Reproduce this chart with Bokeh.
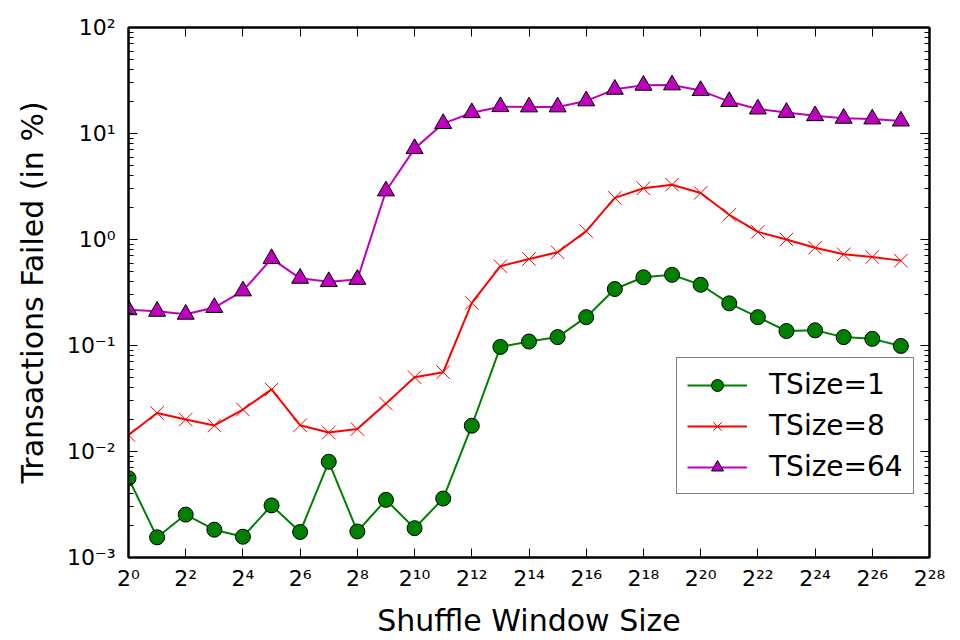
from bokeh.plotting import figure
from bokeh.models import FixedTicker, LogAxis, Legend, LegendItem, CustomJSTickFormatter
from bokeh.embed import file_html
from bokeh.resources import INLINE

# ---- data ----
exponents = list(range(28))  # window size = 2**exponent
tsize1 = [0.0056, 0.00155, 0.00254, 0.00183, 0.00157, 0.0031, 0.00174, 0.0080,
          0.00176, 0.0035, 0.00189, 0.0036, 0.0175, 0.097, 0.109, 0.120,
          0.185, 0.341, 0.44, 0.464, 0.374, 0.25, 0.185, 0.137,
          0.139, 0.120, 0.1155, 0.099]
tsize8 = [0.0143, 0.0231, 0.0200, 0.0176, 0.0249, 0.0385, 0.0177, 0.0151,
          0.0163, 0.0283, 0.0502, 0.056, 0.252, 0.56, 0.655, 0.757,
          1.20, 2.47, 3.04, 3.29, 2.75, 1.71, 1.18, 1.00,
          0.836, 0.725, 0.684, 0.632]
tsize64 = [0.217, 0.210, 0.197, 0.228, 0.327, 0.66, 0.43, 0.40,
           0.42, 2.87, 7.2, 12.4, 15.7, 17.9, 17.8, 17.8,
           20.3, 26.1, 28.5, 28.7, 25.4, 20.0, 17.0, 15.8,
           14.7, 13.9, 13.7, 13.1]
series_labels = ["TSize=1", "TSize=8", "TSize=64"]

x_tick_exponents = list(range(0, 29, 2))
x_tick_labels = ["2⁰", "2²", "2⁴", "2⁶", "2⁸", "2¹⁰", "2¹²", "2¹⁴",
                 "2¹⁶", "2¹⁸", "2²⁰", "2²²", "2²⁴", "2²⁶", "2²⁸"]
y_tick_values = [1e-3, 1e-2, 1e-1, 1e0, 1e1, 1e2]
y_tick_labels = ["10⁻³", "10⁻²", "10⁻¹", "10⁰", "10¹", "10²"]

FONT = "DejaVu Sans"

xs = [2 ** e for e in exponents]
x_ticks = [2 ** e for e in x_tick_exponents]
y_minor = [m * d for d in y_tick_values[:-1] for m in range(2, 10)]

p = figure(width=960, height=640, x_axis_type="log", y_axis_type="log",
           x_range=(1, 2 ** 28), y_range=(1e-3, 1e2),
           output_backend="svg", toolbar_location=None,
           min_border_left=128, min_border_right=31,
           min_border_top=27, min_border_bottom=78)

p.grid.visible = False
p.outline_line_color = "black"
p.outline_line_width = 2
p.background_fill_color = "white"
p.border_fill_color = "white"

xt = FixedTicker(ticks=x_ticks, minor_ticks=[])
yt = FixedTicker(ticks=y_tick_values, minor_ticks=y_minor)

xa = p.xaxis[0]
xa.ticker = xt
xa.major_label_overrides = {t: l for t, l in zip(x_ticks, x_tick_labels)}
xa.axis_label = "Shuffle Window Size"

ya = p.yaxis[0]
ya.ticker = yt
ya.major_label_overrides = {t: l for t, l in zip(y_tick_values, y_tick_labels)}
ya.axis_label = "Transactions Failed (in %)"

blank = CustomJSTickFormatter(code="return ''")
top = LogAxis(ticker=xt, formatter=blank)
right = LogAxis(ticker=yt, formatter=blank)
p.add_layout(top, "above")
p.add_layout(right, "right")

for ax in [xa, ya, top, right]:
    ax.axis_line_color = "black"
    ax.axis_line_width = 2
    ax.major_tick_in = 9
    ax.major_tick_out = 0
    ax.minor_tick_in = 5
    ax.minor_tick_out = 0
    ax.major_tick_line_width = 1
    ax.minor_tick_line_width = 1
    ax.major_label_text_font = FONT
    ax.major_label_text_font_size = "22px"
    ax.major_label_text_color = "black"
    ax.axis_label_text_font = FONT
    ax.axis_label_text_font_size = "30px"
    ax.axis_label_text_font_style = "normal"
    ax.axis_label_text_color = "black"

xa.major_label_standoff = 8
xa.axis_label_standoff = 9
ya.major_label_standoff = 13
ya.axis_label_standoff = 14
top.major_label_standoff = 0
right.major_label_standoff = 0
top.major_label_text_font_size = "1px"
right.major_label_text_font_size = "1px"

l1 = p.line(xs, tsize1, line_color="#008000", line_width=2)
s1 = p.scatter(xs, tsize1, marker="circle", size=15, fill_color="#008000",
               line_color="black", line_width=1)
l2 = p.line(xs, tsize8, line_color="#ff0000", line_width=2)
s2 = p.scatter(xs, tsize8, marker="x", size=19, line_color="#ff0000", line_width=1)
l3 = p.line(xs, tsize64, line_color="#bf00bf", line_width=2)
s3 = p.scatter(xs, tsize64, marker="triangle", size=17, fill_color="#bf00bf",
               line_color="black", line_width=1)

legend = Legend(items=[
    LegendItem(label=series_labels[0], renderers=[l1, s1]),
    LegendItem(label=series_labels[1], renderers=[l2, s2]),
    LegendItem(label=series_labels[2], renderers=[l3, s3]),
])
legend.location = (548, 63)
legend.border_line_color = "black"
legend.border_line_width = 1.5
legend.background_fill_color = "white"
legend.background_fill_alpha = 1
legend.padding = 10
legend.spacing = 8
legend.margin = 0
legend.glyph_width = 60
legend.glyph_height = 30
legend.label_standoff = 22
legend.label_text_font = FONT
legend.label_text_font_size = "28px"
legend.label_text_color = "black"
p.add_layout(legend)

open("out.html", "w").write(file_html(p, INLINE))
